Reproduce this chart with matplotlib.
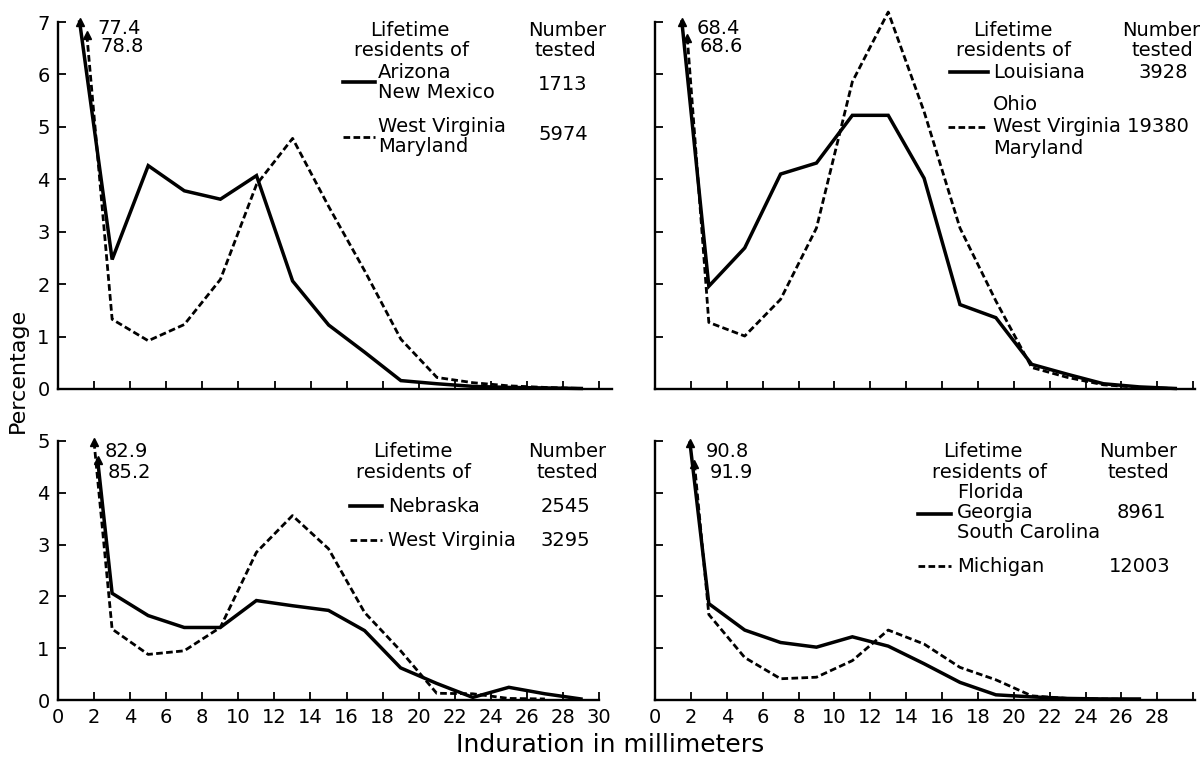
import numpy as np
from matplotlib import pyplot as plt
from matplotlib.lines import Line2D

W, H = 1204, 760

# midpoints of the 2 mm induration classes (3, 5, ... 29)
x_mid = np.arange(3, 30, 2)

# first class (0-2 mm) is off scale: arrow tip position and printed value
# top left: Arizona / New Mexico vs West Virginia / Maryland
tl_solid_tip = (1.2, 7.0)
tl_solid_first = 77.4
tl_solid = [2.47, 4.26, 3.78, 3.62, 4.07, 2.06, 1.22, 0.70, 0.16, 0.10, 0.05, 0.03, 0.02, 0.01]
tl_dash_tip = (1.6, 6.75)
tl_dash_first = 78.8
tl_dash = [1.33, 0.92, 1.23, 2.09, 3.90, 4.78, 3.48, 2.25, 0.95, 0.22, 0.12, 0.06, 0.03, 0.01]

# top right: Louisiana vs Ohio / West Virginia / Maryland
tr_solid_tip = (1.5, 7.0)
tr_solid_first = 68.4
tr_solid = [1.96, 2.69, 4.10, 4.31, 5.22, 5.22, 4.02, 1.61, 1.36, 0.47, 0.28, 0.10, 0.04, 0.01]
tr_dash_tip = (1.8, 6.7)
tr_dash_first = 68.6
tr_dash = [1.27, 1.01, 1.71, 3.07, 5.86, 7.19, 5.29, 3.07, 1.68, 0.41, 0.22, 0.08, 0.03, 0.01]

# bottom left: Nebraska vs West Virginia
bl_solid_tip = (2.2, 4.63)
bl_solid_first = 85.2
bl_solid = [2.06, 1.63, 1.40, 1.40, 1.92, 1.82, 1.73, 1.34, 0.62, 0.32, 0.05, 0.245, 0.12, 0.02]
bl_dash_tip = (2.0, 4.98)
bl_dash_first = 82.9
bl_dash = [1.37, 0.88, 0.95, 1.40, 2.85, 3.56, 2.92, 1.69, 0.95, 0.13, 0.12, 0.03, 0.02]

# bottom right: Florida / Georgia / South Carolina vs Michigan
br_solid_tip = (1.95, 4.96)
br_solid_first = 90.8
br_solid = [1.86, 1.35, 1.11, 1.02, 1.22, 1.04, 0.70, 0.34, 0.10, 0.06, 0.03, 0.02, 0.02]
br_dash_tip = (2.2, 4.56)
br_dash_first = 91.9
br_dash = [1.65, 0.82, 0.41, 0.44, 0.76, 1.35, 1.08, 0.63, 0.39, 0.08, 0.03, 0.02, 0.01]

FS = 14
DASH = (0, (2.4, 1.2))
LW_S, LW_D = 2.5, 2.0


def px(x, y):
    return x / W, 1 - y / H


def ax_rect(x0, y0, x1, y1):
    l, t = px(x0, y0)
    r, b = px(x1, y1)
    return [l, b, r - l, t - b]


def series(ax, tip, vals, ls, lw):
    xs = np.concatenate([[tip[0]], x_mid[:len(vals)]])
    ys = np.concatenate([[tip[1]], vals])
    ax.plot(xs, ys, color='black', ls=ls, lw=lw, clip_on=False,
            solid_joinstyle='miter', dash_capstyle='butt')
    ax.plot(tip[0], tip[1], marker='^', ms=6, color='black', clip_on=False)


def style(ax, xmax, ymax, xlabels, ylabels, xlab_max=30):
    ax.set_xlim(0, xmax)
    ax.set_ylim(0, ymax)
    for s in ['top', 'right']:
        ax.spines[s].set_visible(False)
    for s in ['left', 'bottom']:
        ax.spines[s].set_linewidth(1.7)
    ax.set_xticks(np.arange(0, min(xmax, 30) + 0.01, 2))
    ax.set_yticks(np.arange(0, ymax + 0.01, 1))
    ax.tick_params(direction='in', length=6, width=1.3, labelsize=FS, pad=6)
    if xlabels:
        ax.set_xticklabels([str(int(v)) if v <= xlab_max else '' for v in ax.get_xticks()])
    else:
        ax.set_xticklabels([])
    if ylabels:
        ax.set_yticklabels([str(int(v)) for v in ax.get_yticks()])
    else:
        ax.set_yticklabels([])


def ftext(x, y, s, ha='left'):
    fig.text(*px(x, y), s, ha=ha, va='center', fontsize=FS, linespacing=0.95)


def key(x0, x1, y, ls, lw):
    a, b = px(x0, y)
    c, _ = px(x1, y)
    fig.add_artist(Line2D([a, c], [b, b], color='black', ls=ls, lw=lw,
                          transform=fig.transFigure))


fig = plt.figure(figsize=(W / 100, H / 100), dpi=100)

ax1 = fig.add_axes(ax_rect(58, 22, 612, 389))
ax2 = fig.add_axes(ax_rect(655, 22, 1195, 389))
ax3 = fig.add_axes(ax_rect(58, 441, 599, 700))
ax4 = fig.add_axes(ax_rect(655, 441, 1195, 700))

series(ax1, tl_solid_tip, tl_solid, '-', LW_S)
series(ax1, tl_dash_tip, tl_dash, DASH, LW_D)
series(ax2, tr_solid_tip, tr_solid, '-', LW_S)
series(ax2, tr_dash_tip, tr_dash, DASH, LW_D)
series(ax3, bl_solid_tip, bl_solid, '-', LW_S)
series(ax3, bl_dash_tip, bl_dash, DASH, LW_D)
series(ax4, br_solid_tip, br_solid, '-', LW_S)
series(ax4, br_dash_tip, br_dash, DASH, LW_D)

style(ax1, 30.7, 7, False, True)
style(ax2, 30.1, 7, False, False)
style(ax3, 30.0, 5, True, True)
style(ax4, 30.1, 5, True, False, xlab_max=28)

# off-scale first-class values
ftext(97, 28, f'{tl_solid_first}')
ftext(100, 47, f'{tl_dash_first}')
ftext(697, 28, f'{tr_solid_first}')
ftext(700, 47, f'{tr_dash_first}')
ftext(105, 452, f'{bl_dash_first}')
ftext(108, 472, f'{bl_solid_first}')
ftext(706, 452, f'{br_solid_first}')
ftext(710, 472, f'{br_dash_first}')

# top left legend
ftext(410, 31, 'Lifetime', 'center')
ftext(411, 51, 'residents of', 'center')
ftext(567, 31, 'Number', 'center')
ftext(565, 51, 'tested', 'center')
key(343, 375, 82, '-', 2.6)
ftext(378, 73, 'Arizona')
ftext(378, 93, 'New Mexico')
ftext(563, 84, '1713', 'center')
key(343, 375, 137, DASH, LW_D)
ftext(378, 127, 'West Virginia')
ftext(378, 147, 'Maryland')
ftext(563, 135, '5974', 'center')

# top right legend
ftext(1013, 31, 'Lifetime', 'center')
ftext(1013, 51, 'residents of', 'center')
ftext(1200, 31, 'Number', 'right')
ftext(1193, 51, 'tested', 'right')
key(950, 988, 72, '-', 2.6)
ftext(993, 72, 'Louisiana')
ftext(1188, 72, '3928', 'right')
ftext(993, 105, 'Ohio')
key(948, 986, 127, DASH, LW_D)
ftext(993, 127, 'West Virginia 19380')
ftext(993, 148, 'Maryland')

# bottom left legend
ftext(413, 452, 'Lifetime', 'center')
ftext(413, 472, 'residents of', 'center')
ftext(567, 452, 'Number', 'center')
ftext(567, 472, 'tested', 'center')
key(350, 382, 506, '-', 2.6)
ftext(388, 506, 'Nebraska')
ftext(565, 506, '2545', 'center')
key(350, 382, 540, DASH, LW_D)
ftext(388, 540, 'West Virginia')
ftext(565, 540, '3295', 'center')

# bottom right legend
ftext(983, 452, 'Lifetime', 'center')
ftext(989, 472, 'residents of', 'center')
ftext(1138, 452, 'Number', 'center')
ftext(1138, 472, 'tested', 'center')
ftext(957, 492, 'Florida')
key(918, 951, 514, '-', 2.6)
ftext(957, 513, 'Georgia')
ftext(957, 533, 'South Carolina')
ftext(1141, 513, '8961', 'center')
key(918, 951, 566, DASH, LW_D)
ftext(957, 566, 'Michigan')
ftext(1140, 566, '12003', 'center')

fig.text(*px(18, 370), 'Percentage', rotation=90, ha='center', va='center', fontsize=16)
fig.text(*px(610, 745), 'Induration in millimeters', ha='center', va='center', fontsize=18)

fig.savefig('out.png', dpi=100)
